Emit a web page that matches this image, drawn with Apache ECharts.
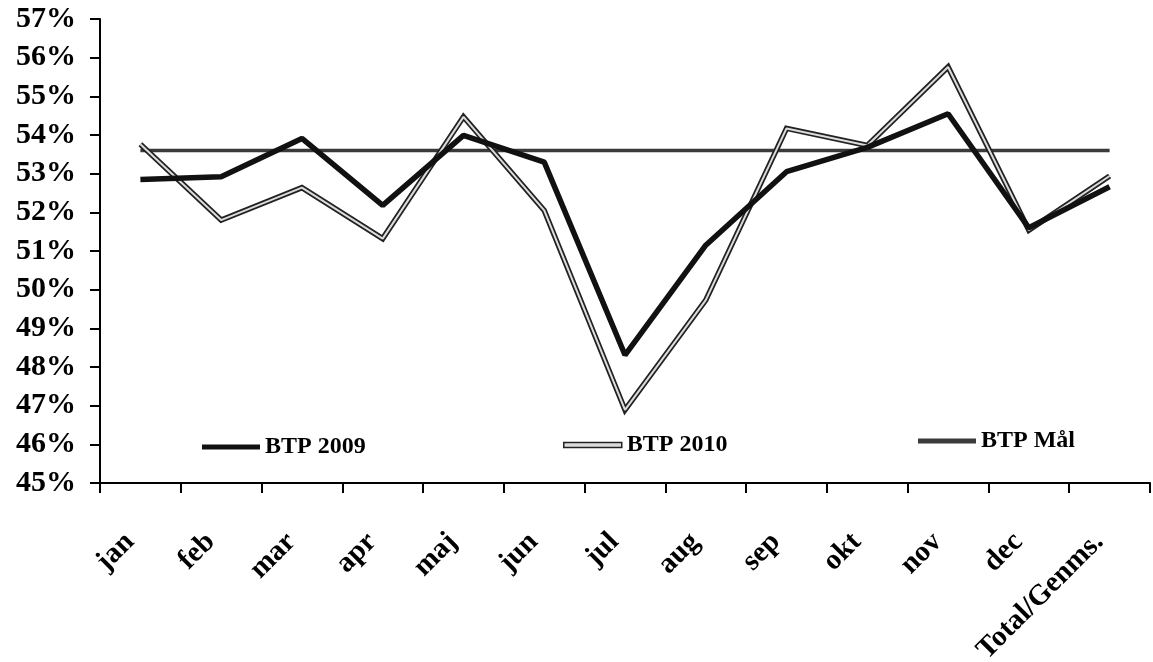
<!DOCTYPE html>
<html>
<head>
<meta charset="utf-8">
<script src="https://cdn.jsdelivr.net/npm/echarts@6/dist/echarts.min.js"></script>
<style>
  html, body { margin: 0; padding: 0; background: #fff; }
  #chart { width: 1153px; height: 662px; }
</style>
</head>
<body>
<div id="chart"></div>
<script>
// Months plus the yearly average column
var categories = ['jan', 'feb', 'mar', 'apr', 'maj', 'jun', 'jul', 'aug', 'sep', 'okt', 'nov', 'dec', 'Total/Genms.'];

// BTP share in percent
var btp2009 = [52.85, 52.92, 53.91, 52.18, 53.99, 53.30, 48.31, 51.15, 53.05, 53.68, 54.55, 51.60, 52.66];
var btp2010 = [53.76, 51.80, 52.64, 51.32, 54.47, 52.05, 46.89, 49.73, 54.17, 53.73, 55.76, 51.54, 52.94];
var btpMaal = [53.6, 53.6, 53.6, 53.6, 53.6, 53.6, 53.6, 53.6, 53.6, 53.6, 53.6, 53.6, 53.6];

// Y axis range and tick step (percent)
var yMin = 45, yMax = 57, yStep = 1;

var serif = '"Liberation Serif", "Times New Roman", serif';

var chart = echarts.init(document.getElementById('chart'), null, { renderer: 'canvas' });

function legendAt(name, left, top, itemStyle) {
  return {
    data: [name],
    left: left,
    top: top,
    orient: 'horizontal',
    icon: 'rect',
    itemWidth: 58,
    itemHeight: 5,
    itemStyle: itemStyle,
    textStyle: { fontFamily: serif, fontWeight: 'bold', fontSize: 24, color: '#000' },
    selectedMode: false
  };
}

chart.setOption({
  animation: false,
  backgroundColor: '#fff',
  grid: { left: 100, right: 3, top: 19, bottom: 179, containLabel: false, outerBoundsMode: 'none' },
  legend: [
    legendAt('BTP 2009', 197, 430, { color: '#111' }),
    legendAt('BTP 2010', 558, 428, { color: '#dcdcdc', borderColor: '#222', borderWidth: 1.5 }),
    legendAt('BTP Mål', 913, 424, { color: '#3a3a3a' })
  ],
  xAxis: {
    type: 'category',
    data: categories,
    boundaryGap: true,
    axisLine: { lineStyle: { color: '#000', width: 2 } },
    axisTick: { show: true, alignWithLabel: false, length: 10, lineStyle: { color: '#000', width: 2 } },
    axisLabel: {
      interval: 0,
      rotate: 45,
      margin: 44,
      padding: [0, 15, 0, 0],
      color: '#000',
      fontFamily: serif,
      fontWeight: 'bold',
      fontSize: 29
    },
    splitLine: { show: false }
  },
  yAxis: {
    type: 'value',
    min: yMin,
    max: yMax,
    interval: yStep,
    axisLine: { show: true, lineStyle: { color: '#000', width: 2 } },
    axisTick: { show: true, length: 10, lineStyle: { color: '#000', width: 2 } },
    axisLabel: {
      formatter: '{value}%',
      margin: 24,
      color: '#000',
      fontFamily: serif,
      fontWeight: 'bold',
      fontSize: 30
    },
    splitLine: { show: false }
  },
  series: [
    {
      name: 'BTP Mål',
      type: 'line',
      data: btpMaal,
      symbol: 'none',
      lineStyle: { color: '#3a3a3a', width: 3.5 },
      itemStyle: { color: '#3a3a3a' },
      z: 2
    },
    {
      name: 'BTP 2010',
      type: 'line',
      data: btp2010,
      symbol: 'none',
      lineStyle: { color: '#222', width: 5.5, join: 'miter' },
      itemStyle: { color: '#222' },
      z: 3
    },
    {
      // light core that gives the 2010 line its double-stroke look
      name: 'BTP 2010 core',
      type: 'line',
      data: btp2010,
      symbol: 'none',
      lineStyle: { color: '#dcdcdc', width: 2 },
      itemStyle: { color: '#dcdcdc' },
      z: 4
    },
    {
      name: 'BTP 2009',
      type: 'line',
      data: btp2009,
      symbol: 'none',
      lineStyle: { color: '#111', width: 5.5 },
      itemStyle: { color: '#111' },
      z: 5
    }
  ]
});
</script>
</body>
</html>
